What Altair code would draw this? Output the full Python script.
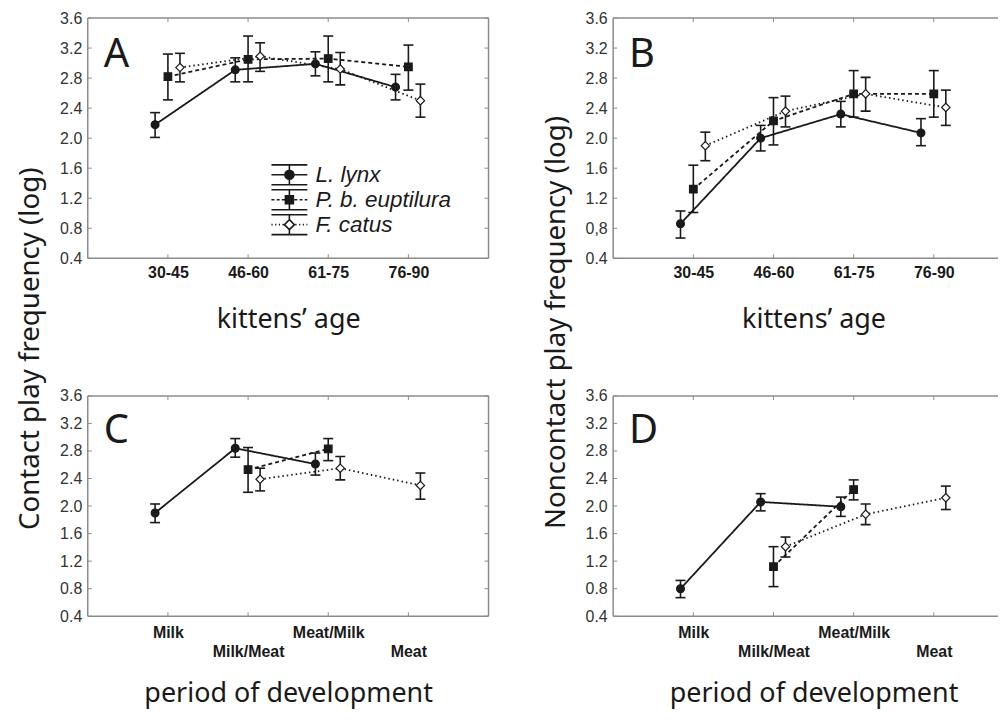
import json
import altair as alt
import pandas as pd

# ---------------- data ----------------
AGE = ["30-45", "46-60", "61-75", "76-90"]
PERIOD = ["Milk", "Milk/Meat", "Meat/Milk", "Meat"]
SERIES = ["L. lynx", "P. b. euptilura", "F. catus"]
Y_TICKS = [0.4, 0.8, 1.2, 1.6, 2.0, 2.4, 2.8, 3.2, 3.6]
X_TICKS = [1, 2, 3, 4]

# Panel A: contact play vs kittens' age
A_LYNX = [2.18, 2.91, 2.99, 2.68]
A_LYNX_LO = [2.01, 2.75, 2.83, 2.51]
A_LYNX_HI = [2.34, 3.07, 3.15, 2.85]
A_PBE = [2.82, 3.05, 3.06, 2.95]
A_PBE_LO = [2.51, 2.75, 2.75, 2.64]
A_PBE_HI = [3.12, 3.36, 3.36, 3.24]
A_CAT = [2.94, 3.09, 2.92, 2.50]
A_CAT_LO = [2.75, 2.89, 2.71, 2.28]
A_CAT_HI = [3.13, 3.27, 3.14, 2.72]

# Panel B: noncontact play vs kittens' age
B_LYNX = [0.86, 2.00, 2.32, 2.07]
B_LYNX_LO = [0.67, 1.83, 2.15, 1.90]
B_LYNX_HI = [1.03, 2.17, 2.49, 2.26]
B_PBE = [1.32, 2.23, 2.59, 2.59]
B_PBE_LO = [1.01, 1.91, 2.28, 2.28]
B_PBE_HI = [1.64, 2.54, 2.90, 2.90]
B_CAT = [1.90, 2.36, 2.59, 2.41]
B_CAT_LO = [1.70, 2.15, 2.36, 2.17]
B_CAT_HI = [2.08, 2.56, 2.81, 2.64]

# Panel C: contact play vs period of development
C_LYNX = [1.90, 2.84, 2.61, None]
C_LYNX_LO = [1.76, 2.71, 2.45, None]
C_LYNX_HI = [2.03, 2.98, 2.77, None]
C_PBE = [None, 2.53, 2.83, None]
C_PBE_LO = [None, 2.20, 2.66, None]
C_PBE_HI = [None, 2.85, 2.98, None]
C_CAT = [None, 2.39, 2.55, 2.30]
C_CAT_LO = [None, 2.22, 2.38, 2.10]
C_CAT_HI = [None, 2.55, 2.72, 2.48]

# Panel D: noncontact play vs period of development
D_LYNX = [0.80, 2.06, 1.99, None]
D_LYNX_LO = [0.67, 1.93, 1.85, None]
D_LYNX_HI = [0.92, 2.18, 2.13, None]
D_PBE = [None, 1.12, 2.24, None]
D_PBE_LO = [None, 0.83, 2.09, None]
D_PBE_HI = [None, 1.41, 2.38, None]
D_CAT = [None, 1.41, 1.88, 2.12]
D_CAT_LO = [None, 1.26, 1.73, 1.95]
D_CAT_HI = [None, 1.55, 2.03, 2.29]

# ---------------- style ----------------
INK = "#1a1a1a"
BORDER = "#8c8c8c"
TITLE_FONT = "Noto Sans"
LABEL_FONT = "Liberation Sans"
SERIES_SHIFT = {"L. lynx": -0.16, "P. b. euptilura": 0.0, "F. catus": 0.15}
STYLE = {
    "L. lynx": dict(dash=[1, 0], shape="circle", fill=INK, size=62),
    "P. b. euptilura": dict(dash=[4, 3], shape="square", fill=INK, size=58),
    "F. catus": dict(dash=[1.5, 3], shape="diamond", fill="white", size=70),
}
UNIT_PX = 80.4          # pixels per category step
LEFT_W = 5 * UNIT_PX    # full frame for the left panels
RIGHT_W = 386           # right panels run to the page edge


def dotted(x0, x1, seg, gap):
    parts = []
    x = x0
    while x < x1 - 1e-9:
        e = min(x + seg, x1)
        parts.append(f"M{x:.2f},0H{e:.2f}")
        x = e + gap
    return "".join(parts)


def glyph(kind):
    caps = "M-1.8,-1H1.8M-1.8,1H1.8"
    if kind == "circle":
        return (caps + "M0,-1V1M-1.8,0H1.8"
                + "M-0.45,0A0.45,0.45 0 1,0 0.45,0A0.45,0.45 0 1,0 -0.45,0Z")
    if kind == "square":
        line = dotted(-1.8, -0.45, 0.3, 0.22) + dotted(0.5, 1.8, 0.3, 0.22)
        return caps + "M0,-1V-0.4M0,0.4V1" + line + "M-0.4,-0.4H0.4V0.4H-0.4Z"
    line = dotted(-1.8, -0.55, 0.12, 0.25) + dotted(0.6, 1.8, 0.12, 0.25)
    return caps + "M0,-1V-0.5M0,0.5V1" + line + "M0,-0.5L0.5,0L0,0.5L-0.5,0Z"


GLYPHS = [glyph(STYLE[s]["shape"]) for s in SERIES]
FILLS = [STYLE[s]["fill"] for s in SERIES]


def make_df(series_values):
    rows = []
    for name, (mean, lo, hi) in zip(SERIES, series_values):
        for i, (m, l, h) in enumerate(zip(mean, lo, hi)):
            if m is None:
                continue
            rows.append({"series": name, "idx": i + 1, "pos": i + 1 + SERIES_SHIFT[name],
                         "mean": m, "lo": l, "hi": h})
    return pd.DataFrame(rows)


def x_axis(cats, title, stagger, title_y, pad):
    arr = json.dumps(cats)
    if stagger:
        expr = f"datum.value % 2 == 0 ? ['', {arr}[datum.value - 1]] : {arr}[datum.value - 1]"
    else:
        expr = f"{arr}[datum.value - 1]"
    return alt.Axis(values=X_TICKS, labelExpr=expr, title=title, domain=False, ticks=False,
                    grid=False, labelFont=LABEL_FONT, labelFontSize=16, labelFontWeight="bold",
                    labelColor=INK, labelPadding=pad, labelLineHeight=19.5, labelOverlap=False,
                    labelBaseline="top",
                    titleFont=TITLE_FONT, titleFontSize=27, titleFontWeight="normal",
                    titleColor=INK, titleX=201, titleY=title_y, titleBaseline="alphabetic",
                    titleAlign="center")


def y_axis(title, title_y, label_expr):
    kw = dict(values=Y_TICKS, format=".1f", domain=False, ticks=False, grid=False,
              labelFont=LABEL_FONT, labelFontSize=16, labelColor="#333333", labelPadding=6,
              titleFont=TITLE_FONT, titleFontSize=27.7, titleFontWeight="normal",
              titleColor=INK, titleAngle=270, titleAlign="left", titleBaseline="alphabetic",
              titleX=-49, titleY=title_y)
    if label_expr:
        kw["labelExpr"] = label_expr
    return alt.Axis(title=title if title else "", **kw)


def panel(series_values, cats, letter, width, height, xtitle, xtitle_y, stagger, pad,
          ytitle=None, ytitle_y=0, label_expr=None, legend=False, letter_dy=97, right_edge=True):
    df = make_df(series_values)
    base = alt.Chart(df)
    x_max = width / UNIT_PX
    xs = alt.Scale(domain=[0, x_max], nice=False, zero=False)
    ys = alt.Scale(domain=[0.4, 3.6], nice=False, zero=False)
    xa = x_axis(cats, xtitle, stagger, xtitle_y, pad)
    ya = y_axis(ytitle, ytitle_y, label_expr)
    X = alt.X("pos:Q", scale=xs, axis=xa)

    def Y(field):
        return alt.Y(field, type="quantitative", scale=ys, axis=ya)

    layers = []
    # frame (top, bottom, left and, for the left column, right edge)
    one = base.transform_aggregate(n="count()")
    frame = one.mark_rule(color=BORDER, strokeWidth=1.5)
    layers.append(frame.encode(y=alt.Y(datum=3.6, scale=ys, axis=ya)))
    layers.append(frame.encode(y=alt.Y(datum=0.4, scale=ys, axis=ya)))
    layers.append(frame.encode(x=alt.X(datum=0, scale=xs, axis=xa)))
    if right_edge:
        layers.append(frame.encode(x=alt.X(datum=x_max, scale=xs, axis=xa)))
    # small inward tick marks on the frame
    yt = alt.Chart(pd.DataFrame({"v": Y_TICKS}))
    xt = alt.Chart(pd.DataFrame({"v": X_TICKS}))
    layers.append(yt.mark_tick(orient="horizontal", color=BORDER, size=4, thickness=1,
                               opacity=1, xOffset=2).encode(
        x=alt.X(datum=0, scale=xs, axis=xa), y=alt.Y("v:Q", scale=ys, axis=ya)))
    if right_edge:
        layers.append(yt.mark_tick(orient="horizontal", color=BORDER, size=4, thickness=1,
                                   opacity=1, xOffset=-2).encode(
            x=alt.X(datum=x_max, scale=xs, axis=xa), y=alt.Y("v:Q", scale=ys, axis=ya)))
    layers.append(xt.mark_tick(orient="vertical", color=BORDER, size=4, thickness=1,
                               opacity=1, yOffset=-2).encode(
        x=alt.X("v:Q", scale=xs, axis=xa), y=alt.Y(datum=0.4, scale=ys, axis=ya)))
    layers.append(xt.mark_tick(orient="vertical", color=BORDER, size=4, thickness=1,
                               opacity=1, yOffset=2).encode(
        x=alt.X("v:Q", scale=xs, axis=xa), y=alt.Y(datum=3.6, scale=ys, axis=ya)))
    # connecting lines, one per species
    for name in SERIES:
        st = STYLE[name]
        layers.append(base.transform_filter(alt.datum.series == name).mark_line(
            color=INK, strokeWidth=1.8, strokeDash=st["dash"]).encode(
            x=X, y=Y("mean"), order="pos:Q"))
    # error bars
    layers.append(base.mark_rule(color=INK, strokeWidth=1.6).encode(
        x=X, y=Y("lo"), y2="hi:Q"))
    layers.append(base.transform_fold(["lo", "hi"], as_=["end", "val"]).mark_tick(
        orient="horizontal", color=INK, size=10, thickness=1.6, opacity=1).encode(
        x=X, y=Y("val")))
    # markers
    for name in SERIES:
        st = STYLE[name]
        layers.append(base.transform_filter(alt.datum.series == name).mark_point(
            shape=st["shape"], filled=True, fill=st["fill"], size=st["size"], opacity=1,
            stroke=INK, strokeWidth=1.2).encode(x=X, y=Y("mean")))
    if legend:
        leg = alt.Legend(title=None, orient="none", legendX=191, legendY=146, padding=0,
                         symbolSize=400, symbolStrokeColor=INK, symbolStrokeWidth=1.6,
                         symbolOpacity=1, labelFont=LABEL_FONT, labelFontSize=22.5,
                         labelFontStyle="italic", labelColor=INK, labelOffset=15, rowPadding=-4)
        layers.append(base.transform_filter("false").mark_point(
            filled=True, opacity=1, strokeWidth=1.6).encode(
            x=X, y=Y("mean"),
            shape=alt.Shape("series:N", scale=alt.Scale(domain=SERIES, range=GLYPHS), legend=leg),
            fill=alt.Fill("series:N", scale=alt.Scale(domain=SERIES, range=FILLS), legend=leg),
            stroke=alt.Stroke("series:N", scale=alt.Scale(domain=SERIES, range=[INK, INK, INK]),
                              legend=leg)))
    ch = alt.layer(*layers)
    return ch.properties(
        width=width, height=height,
        title=alt.Title(letter, anchor="start", frame="group", fontSize=40, font=TITLE_FONT,
                        fontWeight="normal", color=INK, baseline="alphabetic", offset=0,
                        dx=16, dy=letter_dy))


pA = panel([(A_LYNX, A_LYNX_LO, A_LYNX_HI), (A_PBE, A_PBE_LO, A_PBE_HI), (A_CAT, A_CAT_LO, A_CAT_HI)],
           AGE, "A", LEFT_W, 241, "kittens’ age", 69, False, 6,
           ytitle="Contact play frequency (log)", ytitle_y=513, legend=True)
pB = panel([(B_LYNX, B_LYNX_LO, B_LYNX_HI), (B_PBE, B_PBE_LO, B_PBE_HI), (B_CAT, B_CAT_LO, B_CAT_HI)],
           AGE, "B", RIGHT_W, 241, "kittens’ age", 69, False, 6,
           ytitle="Noncontact play frequency (log)", ytitle_y=512,
           label_expr="datum.value == 0.8 ? '0,8' : format(datum.value, '.1f')", right_edge=False)
pC = panel([(C_LYNX, C_LYNX_LO, C_LYNX_HI), (C_PBE, C_PBE_LO, C_PBE_HI), (C_CAT, C_CAT_LO, C_CAT_HI)],
           PERIOD, "C", LEFT_W, 221, "period of development", 86, True, 8, letter_dy=95)
pD = panel([(D_LYNX, D_LYNX_LO, D_LYNX_HI), (D_PBE, D_PBE_LO, D_PBE_HI), (D_CAT, D_CAT_LO, D_CAT_HI)],
           PERIOD, "D", RIGHT_W, 221, "period of development", 86, True, 8, letter_dy=95,
           right_edge=False)

chart = alt.concat(pA, pB, pC, pD, columns=2, spacing={"row": 138, "column": 125},
                   bounds="flush").configure_view(stroke=None).properties(
    padding={"left": 8, "top": 1, "right": 0, "bottom": 4}, background="white")

chart.save("out.html", embed_options={"renderer": "svg", "actions": False})
